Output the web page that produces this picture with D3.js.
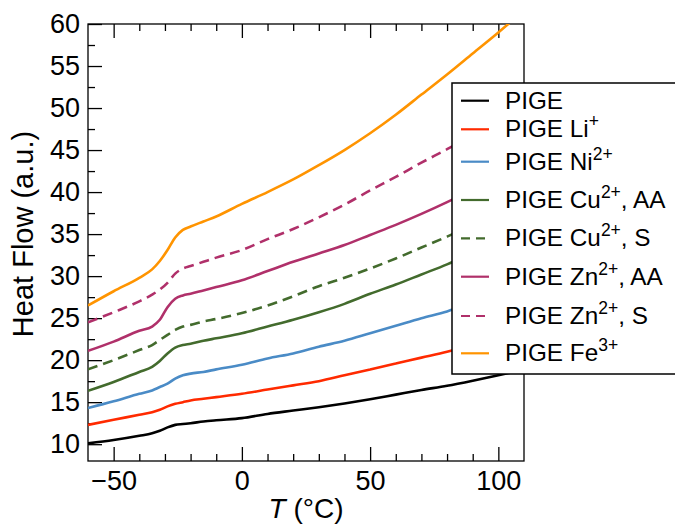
<!DOCTYPE html>
<html>
<head>
<meta charset="utf-8">
<script src="https://cdn.jsdelivr.net/npm/d3@7"></script>
<style>
  body { margin: 0; background: #fff; }
  text { font-family: "Liberation Sans", Arial, Helvetica, sans-serif; fill: #000; }
</style>
</head>
<body>
<svg id="chart" width="675" height="526"></svg>
<script>
// temperature grid (°C) shared by all DSC traces
const temps = [-60, -50, -40, -35, -32, -29, -26, -23, -20, -15, -10, 0, 10, 20, 30, 40, 50, 60, 70, 80, 90, 100, 110];

// heat flow (a.u.)
const pige     = [10.1, 10.5, 11.0, 11.3, 11.6, 12.0, 12.3, 12.4, 12.5, 12.7, 12.85, 13.1, 13.6, 14.0, 14.4, 14.85, 15.35, 15.9, 16.45, 16.95, 17.55, 18.2, 18.9];
const pigeLi   = [12.3, 12.9, 13.5, 13.8, 14.1, 14.5, 14.8, 15.0, 15.2, 15.4, 15.6, 16.0, 16.5, 17.0, 17.5, 18.2, 18.9, 19.6, 20.3, 21.0, 21.8, 22.7, 23.6];
const pigeNi   = [14.3, 15.1, 16.0, 16.4, 16.8, 17.2, 17.8, 18.2, 18.4, 18.6, 18.9, 19.45, 20.2, 20.8, 21.6, 22.3, 23.2, 24.1, 25.0, 25.8, 26.9, 28.0, 29.1];
const pigeCuAA = [16.35, 17.4, 18.6, 19.2, 19.9, 20.8, 21.5, 21.8, 21.95, 22.3, 22.6, 23.2, 24.0, 24.8, 25.7, 26.7, 27.9, 29.0, 30.2, 31.4, 32.8, 34.2, 35.7];
const pigeCuS  = [18.9, 20.0, 21.2, 21.8, 22.4, 23.0, 23.6, 24.0, 24.2, 24.6, 24.9, 25.6, 26.5, 27.6, 28.8, 29.8, 30.9, 32.1, 33.4, 34.7, 36.1, 37.6, 39.1];
const pigeZnAA = [21.1, 22.2, 23.5, 24.0, 24.8, 26.3, 27.3, 27.7, 27.9, 28.3, 28.7, 29.5, 30.6, 31.7, 32.7, 33.7, 34.9, 36.1, 37.4, 38.8, 40.3, 41.9, 43.6];
const pigeZnS  = [24.5, 25.7, 27.0, 27.8, 28.4, 29.2, 30.3, 30.9, 31.2, 31.7, 32.2, 33.1, 34.4, 35.6, 37.0, 38.5, 40.2, 41.8, 43.5, 45.1, 46.8, 48.5, 50.3];
const pigeFe   = [26.5, 28.2, 29.8, 30.8, 31.8, 33.1, 34.6, 35.5, 35.9, 36.5, 37.1, 38.6, 40.0, 41.5, 43.2, 45.0, 47.0, 49.2, 51.6, 54.0, 56.5, 59.0, 61.6];

// legend text: base, superscript, trailing text
const labels = [
  ["PIGE", "", ""],
  ["PIGE Li", "+", ""],
  ["PIGE Ni", "2+", ""],
  ["PIGE Cu", "2+", ", AA"],
  ["PIGE Cu", "2+", ", S"],
  ["PIGE Zn", "2+", ", AA"],
  ["PIGE Zn", "2+", ", S"],
  ["PIGE Fe", "3+", ""]
];

const xTicks = [-50, 0, 50, 100];
const yTicks = [10, 15, 20, 25, 30, 35, 40, 45, 50, 55, 60];

const colors = ["#000000", "#ff2a00", "#4a8bc6", "#436b2d", "#436b2d", "#b0306a", "#b0306a", "#ff9400"];
const dashed = [false, false, false, false, true, false, true, false];
const values = [pige, pigeLi, pigeNi, pigeCuAA, pigeCuS, pigeZnAA, pigeZnS, pigeFe];

const series = values.map((v, i) => ({
  label: labels[i],
  color: colors[i],
  dash: dashed[i],
  points: temps.map((t, j) => [t, v[j]])
}));

const svg = d3.select("#chart");
const plotLeft = 88, plotRight = 524, plotTop = 24, plotBottom = 461;

const x = d3.scaleLinear().domain([-60, 110]).range([plotLeft, plotRight]);
const y = d3.scaleLinear().domain([8, 60]).range([plotBottom, plotTop]);

svg.append("defs").append("clipPath").attr("id", "plot-clip")
  .append("rect").attr("x", plotLeft).attr("y", plotTop)
  .attr("width", plotRight - plotLeft).attr("height", plotBottom - plotTop);

function style_axis(g, fontSize) {
  g.select(".domain").remove();
  g.selectAll("line").attr("stroke", "#000").attr("stroke-width", 1.3);
  g.selectAll("text").attr("font-size", fontSize).attr("font-family", null).attr("fill", "#000");
}

// bottom axis, inward ticks
const xMinor = d3.range(-50, 101, 10).filter(v => v % 50 !== 0);
svg.append("g").attr("transform", `translate(0,${plotBottom})`)
  .call(d3.axisBottom(x).tickValues(xTicks).tickSizeInner(-14).tickSizeOuter(0).tickPadding(10))
  .call(g => style_axis(g, 27));
svg.append("g").attr("transform", `translate(0,${plotBottom})`)
  .call(d3.axisBottom(x).tickValues(xMinor).tickSize(-7).tickFormat(""))
  .call(g => style_axis(g, 0));

// top axis, ticks only
svg.append("g").attr("transform", `translate(0,${plotTop})`)
  .call(d3.axisTop(x).tickValues(xTicks).tickSizeInner(-14).tickSizeOuter(0).tickFormat(""))
  .call(g => style_axis(g, 0));
svg.append("g").attr("transform", `translate(0,${plotTop})`)
  .call(d3.axisTop(x).tickValues(xMinor).tickSize(-7).tickFormat(""))
  .call(g => style_axis(g, 0));

// left axis
const yMinor = d3.range(12.5, 60, 5);
svg.append("g").attr("transform", `translate(${plotLeft},0)`)
  .call(d3.axisLeft(y).tickValues(yTicks).tickSizeInner(-14).tickSizeOuter(0).tickPadding(8))
  .call(g => style_axis(g, 27));
svg.append("g").attr("transform", `translate(${plotLeft},0)`)
  .call(d3.axisLeft(y).tickValues(yMinor).tickSize(-7).tickFormat(""))
  .call(g => style_axis(g, 0));

// frame
svg.append("rect")
  .attr("x", plotLeft).attr("y", plotTop)
  .attr("width", plotRight - plotLeft).attr("height", plotBottom - plotTop)
  .attr("fill", "none").attr("stroke", "#000").attr("stroke-width", 1.3);

// curves
const line = d3.line()
  .x(d => x(d[0]))
  .y(d => y(d[1]))
  .curve(d3.curveMonotoneX);

svg.append("g").attr("clip-path", "url(#plot-clip)")
  .selectAll("path")
  .data(series)
  .join("path")
  .attr("d", d => line(d.points))
  .attr("fill", "none")
  .attr("stroke", d => d.color)
  .attr("stroke-width", 2.6)
  .attr("stroke-dasharray", d => d.dash ? "10,6" : null);

// axis titles
const xTitle = svg.append("text")
  .attr("x", (plotLeft + plotRight) / 2).attr("y", 518)
  .attr("text-anchor", "middle").attr("font-size", 28);
xTitle.append("tspan").attr("font-style", "italic").text("T");
xTitle.append("tspan").text(" (°C)");

svg.append("text")
  .attr("transform", "translate(33,234) rotate(-90)")
  .attr("text-anchor", "middle").attr("font-size", 29)
  .text("Heat Flow (a.u.)");

// legend
const rowY = [100.7, 129.3, 161.7, 200, 238.3, 276.7, 316, 353.3];
const legend = svg.append("g");
legend.append("rect")
  .attr("x", 452).attr("y", 83).attr("width", 260).attr("height", 291)
  .attr("fill", "#fff").attr("stroke", "#000").attr("stroke-width", 1.5);

const rows = legend.selectAll("g.row")
  .data(series)
  .join("g").attr("class", "row")
  .attr("transform", (d, i) => `translate(0,${rowY[i]})`);

rows.append("line")
  .attr("x1", 461).attr("x2", 489)
  .attr("stroke", d => d.color).attr("stroke-width", 2.2)
  .attr("stroke-dasharray", d => d.dash ? "9,6" : null);

rows.append("text")
  .attr("x", 505).attr("y", 8).attr("font-size", 24.3)
  .each(function(d) {
    const t = d3.select(this);
    t.append("tspan").text(d.label[0]);
    if (d.label[1]) {
      t.append("tspan").attr("font-size", 17.5).attr("dy", -10).text(d.label[1]);
      if (d.label[2]) t.append("tspan").attr("dy", 10).text(d.label[2]);
    }
  });
</script>
</body>
</html>
